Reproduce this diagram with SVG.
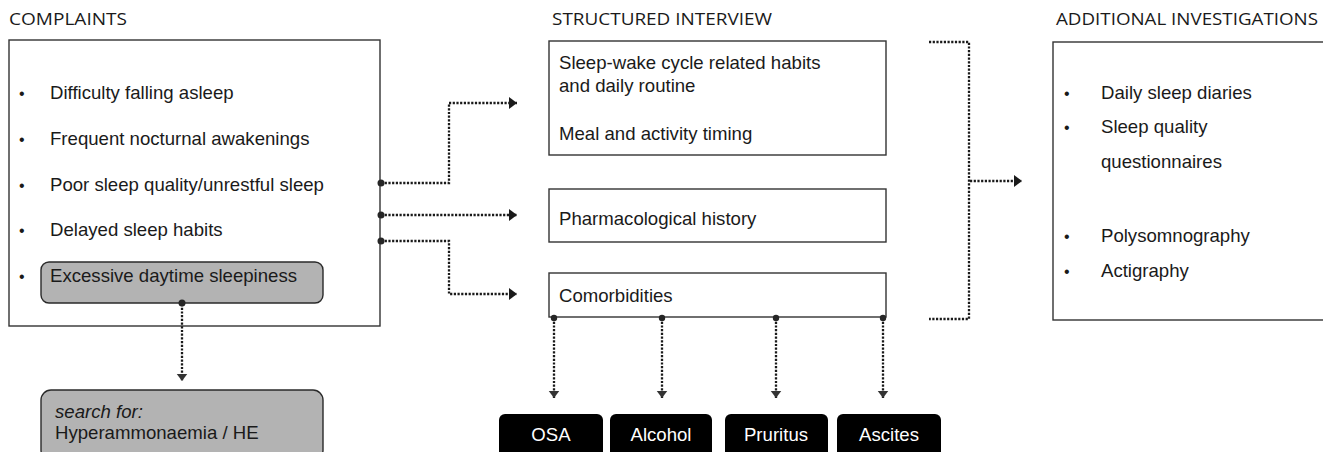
<svg xmlns="http://www.w3.org/2000/svg" width="1323" height="452" viewBox="0 0 1323 452">
<defs>
<style>
.title{font-family:"Open Sans","Liberation Sans",sans-serif;font-size:16.5px;fill:#1a1a1a}
.t{font-family:"Liberation Sans",Arial,sans-serif;font-size:18.6px;fill:#1a1a1a}
.b{font-family:"Liberation Sans",Arial,sans-serif;font-size:16px;fill:#1a1a1a}
.w{font-family:"Liberation Sans",Arial,sans-serif;font-size:18.6px;fill:#ffffff;text-anchor:middle}
.box{fill:#ffffff;stroke:#333333;stroke-width:1.4}
.grey{fill:#b3b3b3;stroke:#2a2a2a;stroke-width:1.4}
.blk{fill:#000000}
.dot{fill:none;stroke:#1a1a1a;stroke-width:2.3;stroke-dasharray:2.2 1.5}
.pt{fill:#262626}
</style>
<marker id="ah" viewBox="0 0 8 12" refX="8" refY="6" markerWidth="8" markerHeight="12" markerUnits="userSpaceOnUse" orient="auto">
<path d="M0,0 L8,6 L0,12 Z" fill="#1a1a1a"/>
</marker>
<marker id="ahd" viewBox="0 0 8 12" refX="8" refY="6" markerWidth="7" markerHeight="12" markerUnits="userSpaceOnUse" orient="auto">
<path d="M0,0 L8,6 L0,12 Z" fill="#333333"/>
</marker>
</defs>
<rect width="1323" height="452" fill="#ffffff"/>

<g id="titles">
<text class="title" x="9" y="25" textLength="118" lengthAdjust="spacingAndGlyphs">COMPLAINTS</text>
<text class="title" x="552" y="25" textLength="220" lengthAdjust="spacingAndGlyphs">STRUCTURED INTERVIEW</text>
<text class="title" x="1056" y="25" textLength="262" lengthAdjust="spacingAndGlyphs">ADDITIONAL INVESTIGATIONS</text>
</g>

<g id="complaints">
<rect class="box" x="9" y="40" width="371" height="286"/>
<text class="b" x="19" y="99">•</text><text class="t" x="50" y="99">Difficulty falling asleep</text>
<text class="b" x="19" y="145">•</text><text class="t" x="50" y="145">Frequent nocturnal awakenings</text>
<text class="b" x="19" y="191">•</text><text class="t" x="50" y="191">Poor sleep quality/unrestful sleep</text>
<text class="b" x="19" y="236">•</text><text class="t" x="50" y="236">Delayed sleep habits</text>
<text class="b" x="19" y="282">•</text>
</g>

<g id="eds">
<rect class="grey" x="41" y="262" width="282" height="41" rx="8"/>
<text class="t" x="50" y="282">Excessive daytime sleepiness</text>
</g>

<g id="search">
<rect class="grey" x="41" y="390" width="282" height="70" rx="10"/>
<text class="t" x="55" y="418" font-style="italic">search for:</text>
<text class="t" x="55" y="439">Hyperammonaemia / HE</text>
</g>

<g id="habits">
<rect class="box" x="549" y="41" width="337" height="114"/>
<text class="t" x="559" y="69">Sleep-wake cycle related habits</text>
<text class="t" x="559" y="92">and daily routine</text>
<text class="t" x="559" y="140">Meal and activity timing</text>
</g>

<g id="pharma">
<rect class="box" x="549" y="189" width="337" height="53"/>
<text class="t" x="559" y="225">Pharmacological history</text>
</g>

<g id="comorb">
<rect class="box" x="549" y="273" width="337" height="44"/>
<text class="t" x="559" y="302">Comorbidities</text>
</g>

<g id="osa"><rect class="blk" x="499" y="414" width="104" height="45" rx="6"/><text class="w" x="551" y="441">OSA</text></g>
<g id="alcohol"><rect class="blk" x="610" y="414" width="102" height="45" rx="6"/><text class="w" x="661" y="441">Alcohol</text></g>
<g id="pruritus"><rect class="blk" x="725" y="414" width="103" height="45" rx="6"/><text class="w" x="776" y="441">Pruritus</text></g>
<g id="ascites"><rect class="blk" x="837" y="414" width="104" height="45" rx="6"/><text class="w" x="889" y="441">Ascites</text></g>

<g id="additional">
<rect class="box" x="1053" y="42" width="275" height="278"/>
<text class="b" x="1064" y="99">•</text><text class="t" x="1101" y="99">Daily sleep diaries</text>
<text class="b" x="1064" y="133">•</text><text class="t" x="1101" y="133">Sleep quality</text>
<text class="t" x="1101" y="168">questionnaires</text>
<text class="b" x="1064" y="242">•</text><text class="t" x="1101" y="242">Polysomnography</text>
<text class="b" x="1064" y="277">•</text><text class="t" x="1101" y="277">Actigraphy</text>
</g>

<g id="connectors">
<path class="dot" d="M381,183 H449 V103 H517" marker-end="url(#ah)"/>
<path class="dot" d="M381,215 H517" marker-end="url(#ah)"/>
<path class="dot" d="M381,241 H449 V294 H517" marker-end="url(#ah)"/>
<circle class="pt" cx="381" cy="183" r="3.5"/>
<circle class="pt" cx="381" cy="215" r="3.5"/>
<circle class="pt" cx="381" cy="241" r="3.5"/>

<path class="dot" d="M182,304 V381" marker-end="url(#ahd)"/>
<circle class="pt" cx="182" cy="303" r="3.5"/>

<path class="dot" d="M554,318 V398" marker-end="url(#ahd)"/>
<path class="dot" d="M662,318 V398" marker-end="url(#ahd)"/>
<path class="dot" d="M776,318 V398" marker-end="url(#ahd)"/>
<path class="dot" d="M883,318 V398" marker-end="url(#ahd)"/>
<circle class="pt" cx="554" cy="318" r="3.2"/>
<circle class="pt" cx="662" cy="318" r="3.2"/>
<circle class="pt" cx="776" cy="318" r="3.2"/>
<circle class="pt" cx="883" cy="318" r="3.2"/>

<path class="dot" d="M929,42 H969 V319 H929"/>
<path class="dot" d="M970,181 H1022" marker-end="url(#ah)"/>
</g>
</svg>
